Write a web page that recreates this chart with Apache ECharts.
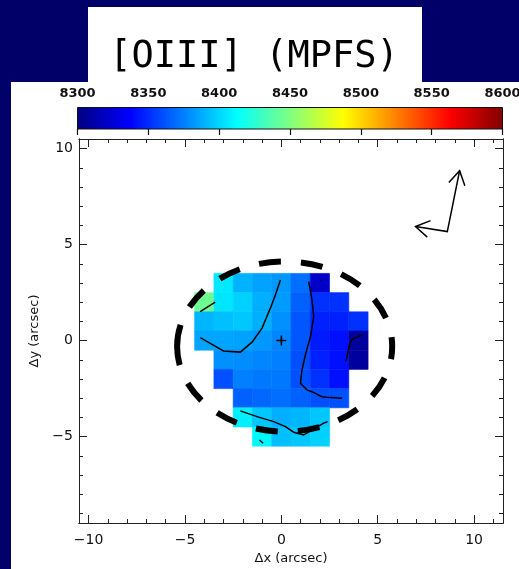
<!DOCTYPE html>
<html>
<head>
<meta charset="utf-8">
<script src="https://cdn.jsdelivr.net/npm/echarts@6/dist/echarts.min.js"></script>
<style>
  html, body { margin: 0; padding: 0; background: #000068; }
  #chart { width: 519px; height: 569px; }
</style>
</head>
<body>
<div id="chart"></div>
<script>
// ---- velocity map of [OIII], one value per 1" spaxel (km/s) ----
const rowY      = [3, 2, 1, 0, -1, -2, -3, -4, -5];
const rowStartX = [-3, -4, -4, -4, -3, -3, -2, -2, -1];
const row3  = [8406, 8390, 8385, 8382, 8370, 8322];
const row2  = [8445, 8405, 8399, 8389, 8383, 8366, 8352, 8352];
const row1  = [8391, 8394, 8396, 8389, 8380, 8363, 8347, 8347, 8352];
const row0  = [8386, 8386, 8385, 8382, 8377, 8363, 8345, 8342, 8309];
const rowM1 = [8380, 8379, 8377, 8375, 8361, 8347, 8342, 8309];
const rowM2 = [8361, 8375, 8373, 8373, 8361, 8352, 8342];
const rowM3 = [8366, 8368, 8370, 8366, 8361, 8361];
const rowM4 = [8408, 8396, 8389, 8391, 8396];
const rowM5 = [8410, 8394, 8396, 8399];
const rowValues = [row3, row2, row1, row0, rowM1, rowM2, rowM3, rowM4, rowM5];

// iso-velocity contours (arcsec)
const contourWest   = [[-4.21, 0.16], [-3.69, -0.14], [-3.00, -0.54], [-2.13, -0.60], [-1.52, -0.08], [-1.00, 0.65], [-0.57, 1.69], [-0.31, 2.38], [-0.05, 3.16]];
const contourKnot   = [[-4.21, 1.51], [-3.43, 2.00]];
const contourMiddle = [[1.42, 3.07], [1.59, 2.12], [1.68, 1.25], [1.51, 0.21], [1.25, -0.74], [1.07, -1.53], [0.99, -2.22], [1.33, -2.57], [1.59, -2.66], [2.11, -2.92], [2.55, -2.97], [3.15, -3.00]];
const contourEast   = [[4.19, 0.30], [3.67, 0.07], [3.50, -0.31], [3.40, -0.90], [3.32, -1.09]];
const contourSouth  = [[-2.13, -3.66], [-1.26, -3.96], [-0.40, -4.22], [0.21, -4.48], [0.64, -4.77], [1.16, -4.91], [1.68, -4.60], [2.20, -4.30], [2.40, -4.22]];
const contourSpeck  = [[-1.13, -5.18], [-0.95, -5.35]];
const contourDot    = [[2.03, 3.12], [2.09, 3.14]];

// compass (N up-right, E left)
const compassBody  = [[6.96, 5.94], [8.61, 5.68], [9.25, 8.85]];
const compassNHead = [[8.69, 8.23], [9.25, 8.85], [9.52, 8.06]];
const compassEHead = [[7.74, 6.25], [6.96, 5.94], [7.57, 5.39]];

// nucleus marker
const nucleusH = [[-0.26, 0], [0.26, 0]];
const nucleusV = [[0, -0.26], [0, 0.26]];

// aperture ellipse: centre x, centre y, semi-axis x, semi-axis y
const apertureEllipse = [0.17, -0.31, 5.58, 4.43];

// axes
const xMajorTicks = [-10, -5, 0, 5, 10];
const xMinorTicks = [-10, -9, -8, -7, -6, -5, -4, -3, -2, -1, 0, 1, 2, 3, 4, 5, 6, 7, 8, 9, 10, 11];
const yMajorTicks = [-5, 0, 5, 10];
const yMinorTicks = [-9, -8, -7, -6, -5, -4, -3, -2, -1, 0, 1, 2, 3, 4, 5, 6, 7, 8, 9, 10];
const colorbarTicks = [8300, 8350, 8400, 8450, 8500, 8550, 8600];
const velMin = 8300, velMax = 8600;

// jet colour table, evenly spaced stops
const jetStops = ['#000080', '#0000ff', '#0080ff', '#00ffff', '#80ff80', '#ffff00', '#ff8000', '#ff0000', '#800000'];

const cells = [];
rowY.forEach((y, i) => {
  rowValues[i].forEach((v, j) => cells.push([rowStartX[i] + j, y, v]));
});

const fmt = v => String(v).replace('-', '\u2212');
const tickFont = { fontFamily: 'DejaVu Sans', fontSize: 14, color: '#111' };
const axisLineStyle = { show: true, onZero: false, lineStyle: { color: '#222', width: 1 } };

function frameAxis(extra) {
  return Object.assign({
    type: 'value', gridIndex: 0, splitLine: { show: false },
    axisLine: axisLineStyle
  }, extra);
}

const chart = echarts.init(document.getElementById('chart'), null, { renderer: 'canvas' });

chart.setOption({
  backgroundColor: '#000068',
  animation: false,
  graphic: [
    { type: 'rect', z: 0, shape: { x: 11, y: 82, width: 508, height: 487 }, style: { fill: '#ffffff' } },
    { type: 'rect', z: 0, shape: { x: 88, y: 7, width: 334, height: 76 }, style: { fill: '#ffffff' } },
    { type: 'text', z: 1, x: 254, y: 57,
      style: { text: '[OIII] (MPFS)', fill: '#000', font: '37px "DejaVu Sans Mono"', textAlign: 'center', textVerticalAlign: 'middle' } }
  ],
  grid: [
    { left: 79, top: 139, width: 424, height: 384, outerBoundsMode: 'none', containLabel: false },
    { left: 77.5, top: 107.5, width: 425, height: 21.5, outerBoundsMode: 'none', containLabel: false }
  ],
  visualMap: {
    show: false, type: 'continuous', min: velMin, max: velMax,
    dimension: 2, seriesIndex: 0, inRange: { color: jetStops }
  },
  xAxis: [
    frameAxis({ position: 'bottom', min: -10.5, max: 11.5,
      name: '\u0394x (arcsec)', nameLocation: 'middle', nameGap: 29,
      nameTextStyle: { fontFamily: 'DejaVu Sans', fontSize: 13, color: '#111' },
      axisTick: { inside: true, length: 8, customValues: xMajorTicks, lineStyle: { color: '#222' } },
      axisLabel: Object.assign({ customValues: xMajorTicks, formatter: fmt, margin: 10 }, tickFont) }),
    frameAxis({ position: 'bottom', min: -10.5, max: 11.5,
      axisTick: { inside: true, length: 4, customValues: xMinorTicks, lineStyle: { color: '#222' } },
      axisLabel: { show: false } }),
    frameAxis({ position: 'top', min: -10.5, max: 11.5,
      axisTick: { inside: true, length: 8, customValues: xMajorTicks, lineStyle: { color: '#222' } },
      axisLabel: { show: false } }),
    frameAxis({ position: 'top', min: -10.5, max: 11.5,
      axisTick: { inside: true, length: 4, customValues: xMinorTicks, lineStyle: { color: '#222' } },
      axisLabel: { show: false } }),
    { type: 'value', gridIndex: 1, position: 'top', min: velMin, max: velMax,
      splitLine: { show: false },
      axisLine: { show: false },
      axisTick: { inside: true, length: 6, customValues: colorbarTicks, lineStyle: { color: '#111', width: 1.2 } },
      axisLabel: { customValues: colorbarTicks, formatter: v => String(v), margin: 7,
        fontFamily: 'DejaVu Sans', fontSize: 13, fontWeight: 'bold', color: '#111' } }
  ],
  yAxis: [
    frameAxis({ position: 'left', min: -9.5, max: 10.5,
      name: '\u0394y (arcsec)', nameLocation: 'middle', nameGap: 38,
      nameTextStyle: { fontFamily: 'DejaVu Sans', fontSize: 13, color: '#111' },
      axisTick: { inside: true, length: 8, customValues: yMajorTicks, lineStyle: { color: '#222' } },
      axisLabel: Object.assign({ customValues: yMajorTicks, formatter: fmt, margin: 6 }, tickFont) }),
    frameAxis({ position: 'left', min: -9.5, max: 10.5,
      axisTick: { inside: true, length: 4, customValues: yMinorTicks, lineStyle: { color: '#222' } },
      axisLabel: { show: false } }),
    frameAxis({ position: 'right', min: -9.5, max: 10.5,
      axisTick: { inside: true, length: 8, customValues: yMajorTicks, lineStyle: { color: '#222' } },
      axisLabel: { show: false } }),
    frameAxis({ position: 'right', min: -9.5, max: 10.5,
      axisTick: { inside: true, length: 4, customValues: yMinorTicks, lineStyle: { color: '#222' } },
      axisLabel: { show: false } }),
    { type: 'value', gridIndex: 1, min: 0, max: 1, show: false }
  ],
  series: [
    {
      type: 'custom', xAxisIndex: 0, yAxisIndex: 0, z: 2,
      encode: { x: 0, y: 1 },
      data: cells,
      renderItem: (params, api) => {
        const p = api.coord([api.value(0) - 0.5, api.value(1) + 0.5]);
        const s = api.size([1, 1]);
        const c = api.visual('color');
        return { type: 'rect', shape: { x: p[0], y: p[1], width: s[0], height: s[1] },
          style: { fill: c, stroke: c, lineWidth: 0.6 } };
      }
    },
    {
      type: 'custom', xAxisIndex: 4, yAxisIndex: 4, z: 2,
      data: [[velMin, velMax]],
      renderItem: (params, api) => {
        const a = api.coord([api.value(0), 1]);
        const b = api.coord([api.value(1), 0]);
        return { type: 'rect', shape: { x: a[0], y: a[1], width: b[0] - a[0], height: b[1] - a[1] },
          style: { fill: new echarts.graphic.LinearGradient(0, 0, 1, 0,
            jetStops.map((col, k) => ({ offset: k / (jetStops.length - 1), color: col }))),
            stroke: '#111', lineWidth: 1 } };
      }
    },
    {
      type: 'lines', coordinateSystem: 'cartesian2d', xAxisIndex: 0, yAxisIndex: 0,
      polyline: true, silent: true, z: 4,
      lineStyle: { color: '#000', width: 1.5, opacity: 1 },
      data: [contourWest, contourKnot, contourMiddle, contourEast, contourSouth, contourSpeck, contourDot,
             compassBody, compassNHead, compassEHead, nucleusH, nucleusV].map(c => ({ coords: c }))
    },
    {
      type: 'custom', xAxisIndex: 0, yAxisIndex: 0, z: 5, silent: true,
      data: [apertureEllipse],
      renderItem: (params, api) => {
        const c = api.coord([api.value(0), api.value(1)]);
        const s = api.size([api.value(2), api.value(3)]);
        return { type: 'ellipse', shape: { cx: c[0], cy: c[1], rx: s[0], ry: s[1] },
          style: { fill: null, stroke: '#000', lineWidth: 6, lineDash: [22, 20], lineDashOffset: 0 } };
      }
    }
  ]
});
</script>
</body>
</html>
